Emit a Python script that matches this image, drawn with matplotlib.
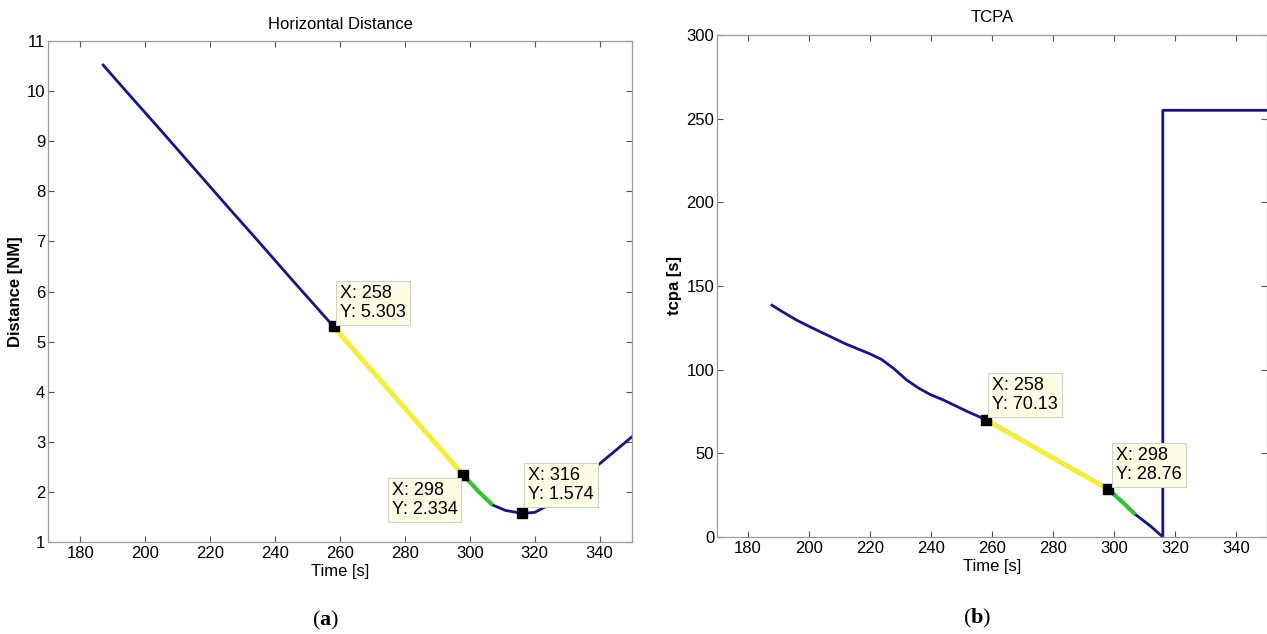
import matplotlib
matplotlib.use("Agg")
import matplotlib.pyplot as plt
from matplotlib import font_manager
import numpy as np

# --- data ---
# (a) horizontal distance [NM] vs time [s]
dist_t = [187, 195, 205, 215, 225, 235, 245, 258, 268, 278, 288, 298,
          303, 307, 311, 316, 320, 325, 330, 335, 340, 345, 350]
dist_v = [10.52, 9.93, 9.20, 8.46, 7.72, 6.99, 6.25, 5.303, 4.56, 3.82, 3.08, 2.334,
          1.99, 1.74, 1.63, 1.574, 1.59, 1.76, 2.02, 2.28, 2.56, 2.83, 3.10]
dist_tips = [(258, 5.303), (298, 2.334), (316, 1.574)]

# (b) tcpa [s] vs time [s]
tcpa_t = [188, 192, 196, 200, 204, 208, 212, 216, 220, 224, 228, 232, 236, 240,
          244, 248, 252, 258, 268, 278, 288, 298, 303, 307, 312, 316, 316, 350]
tcpa_v = [138.5, 134.0, 129.7, 126.0, 122.5, 119.0, 115.5, 112.5, 109.5, 106.0,
          100.5, 94.0, 89.0, 85.0, 82.0, 78.5, 75.0, 70.13, 59.8, 49.4, 39.1, 28.76,
          20.5, 13.5, 6.5, 0.0, 255.0, 255.0]
tcpa_tips = [(258, 70.13), (298, 28.76)]

# phases of the encounter (yellow / green stretches)
yellow_span = (258, 298)
green_span = (298, 307)

names = {f.name for f in font_manager.fontManager.ttflist}
SANS = 'Liberation Sans Narrow' if 'Liberation Sans Narrow' in names else 'Liberation Sans'
plt.rcParams['font.family'] = [SANS, 'DejaVu Sans']
plt.rcParams['mathtext.fontset'] = 'custom'
plt.rcParams['mathtext.bf'] = 'Liberation Serif:bold'
plt.rcParams['mathtext.rm'] = 'Liberation Serif'

BLUE = '#14148c'
YELLOW = '#f2ee3a'
GREEN = '#33c433'
SPINE = '#9a9a9a'
FS = 12

fig = plt.figure(figsize=(12.67, 6.34), dpi=100)
ax1 = fig.add_axes([0.0379, 0.1451, 0.4609, 0.7902])
ax2 = fig.add_axes([0.5659, 0.1530, 0.4338, 0.7918])


def seg(t, v, lo, hi):
    t = np.asarray(t, float)
    v = np.asarray(v, float)
    m = (t >= lo) & (t <= hi)
    return t[m], v[m]


def draw(ax, t, v, tips, offsets):
    ax.plot(t, v, color=BLUE, lw=2.0, zorder=2, solid_joinstyle='round')
    ty, vy = seg(t, v, *yellow_span)
    ax.plot(ty, vy, color=YELLOW, lw=3.6, zorder=3, solid_capstyle='butt')
    tg, vg = seg(t, v, *green_span)
    ax.plot(tg, vg, color=GREEN, lw=3.0, zorder=3, solid_capstyle='butt')
    for (x, y), (dx, dy, ha, va) in zip(tips, offsets):
        ax.plot([x], [y], marker='s', ms=6.5, color='black', zorder=6)
        lab = f'X: {x}\nY: {y:g}'
        ax.annotate(lab, xy=(x, y), xytext=(dx, dy), textcoords='offset points',
                    ha=ha, va=va, multialignment='left', fontsize=13,
                    linespacing=1.15, zorder=7,
                    bbox=dict(boxstyle='square,pad=0.22', fc='#fdfde6',
                              ec='#d2d2c4', lw=0.8))


def style(ax, yticks, ylab, ttl):
    ax.set_xlim(170, 350)
    ax.set_xticks(range(180, 341, 20))
    ax.set_yticks(yticks)
    ax.set_ylim(yticks[0], yticks[-1])
    for s in ax.spines.values():
        s.set_color(SPINE)
        s.set_linewidth(0.9)
    ax.tick_params(direction='in', length=4, width=0.8, color='#555555',
                   labelsize=FS, top=True, right=True, pad=3)
    ax.tick_params(axis='y', pad=2)
    ax.set_xlabel('Time [s]', fontsize=FS, labelpad=2)
    ax.set_ylabel(ylab, fontsize=FS, labelpad=3, fontweight='bold')
    ax.set_title(ttl, fontsize=FS, pad=9)


draw(ax1, dist_t, dist_v, dist_tips,
     [(4.8, 3.8, 'left', 'bottom'), (-4.3, -5.2, 'right', 'top'), (4.5, 7.4, 'left', 'bottom')])
style(ax1, list(range(1, 12)), 'Distance [NM]', 'Horizontal Distance')

draw(ax2, tcpa_t, tcpa_v, tcpa_tips,
     [(4.5, 4.8, 'left', 'bottom'), (5.8, 4.2, 'left', 'bottom')])
style(ax2, list(range(0, 301, 50)), 'tcpa [s]', 'TCPA')

fig.text(326 / 1267, 1 - 620 / 634, r'($\mathbf{a}$)', family='Liberation Serif',
         fontsize=16, ha='center', va='center')
fig.text(977 / 1267, 1 - 618 / 634, r'($\mathbf{b}$)', family='Liberation Serif',
         fontsize=16, ha='center', va='center')

fig.savefig('out.png', dpi=100)
